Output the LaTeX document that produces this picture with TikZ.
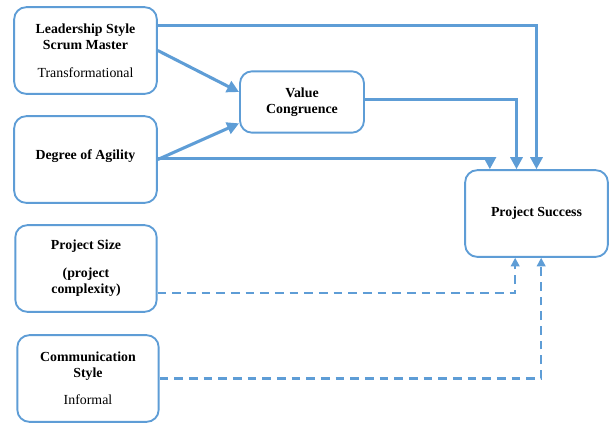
\documentclass[tikz,border=0pt]{standalone}
\usepackage{fontspec}
\setmainfont{Liberation Serif}
\usetikzlibrary{arrows.meta}
\definecolor{lineblue}{RGB}{94,157,214}

\begin{document}
\begin{tikzpicture}[x=0.75pt,y=-0.75pt,
		var node/.style={rectangle,rounded corners=9pt,draw=lineblue,line width=1.4pt,fill=white,
			align=center,font=\fontsize{10.4}{12}\selectfont,inner sep=0pt},
		flow/.style={draw=lineblue,line width=2.3pt,-{Triangle[length=9pt,width=9pt]}},
		weak flow/.style={draw=lineblue,line width=1.6pt,dash pattern=on 6.5pt off 4.5pt,
			-{Triangle[length=6.5pt,width=6.5pt]}}]

		\useasboundingbox (0,0) rectangle (610,426);

		% independent variables
		\node[var node,minimum width=107pt,minimum height=65pt] (lead) at (85.5,50.5)
			{\textbf{Leadership Style}\\\textbf{Scrum Master}\\[9pt]Transformational};
		\node[var node,minimum width=107pt,minimum height=65pt] (agility) at (85.5,159.5)
			{\textbf{Degree of Agility}\\[-4pt]~};
		\node[var node,minimum width=106pt,minimum height=65pt] (size) at (86,268.5)
			{\textbf{Project Size}\\[9pt]\textbf{(project}\\\textbf{complexity)}};
		\node[var node,minimum width=106pt,minimum height=65pt] (comm) at (88,378.5)
			{\textbf{Communication}\\\textbf{Style}\\[8pt]Informal};

		% mediator and outcome
		\node[var node,minimum width=93pt,minimum height=46pt] (value) at (302,102)
			{\textbf{Value}\\\textbf{Congruence}};
		\node[var node,minimum width=107pt,minimum height=65pt] (succ) at (536.5,213.5)
			{\textbf{Project Success}};

		\path[flow]
		([yshift=19pt]lead.east) -| (succ.north);
		\path[flow]
		(lead.east) -- ([yshift=7.5pt]value.west);
		\path[flow]
		(agility.east) -- ([yshift=-16pt]value.west);
		\path[flow]
		([yshift=1pt]agility.east) -| ([xshift=-35pt]succ.north);
		\path[flow]
		([yshift=2pt]value.east) -| ([xshift=-15pt]succ.north);

		% moderators
		\path[weak flow]
		([yshift=-18.5pt]size.east) -| ([xshift=-16pt]succ.south);
		\path[weak flow]
		(comm.east) -| ([xshift=3.5pt]succ.south);
\end{tikzpicture}
\end{document}
